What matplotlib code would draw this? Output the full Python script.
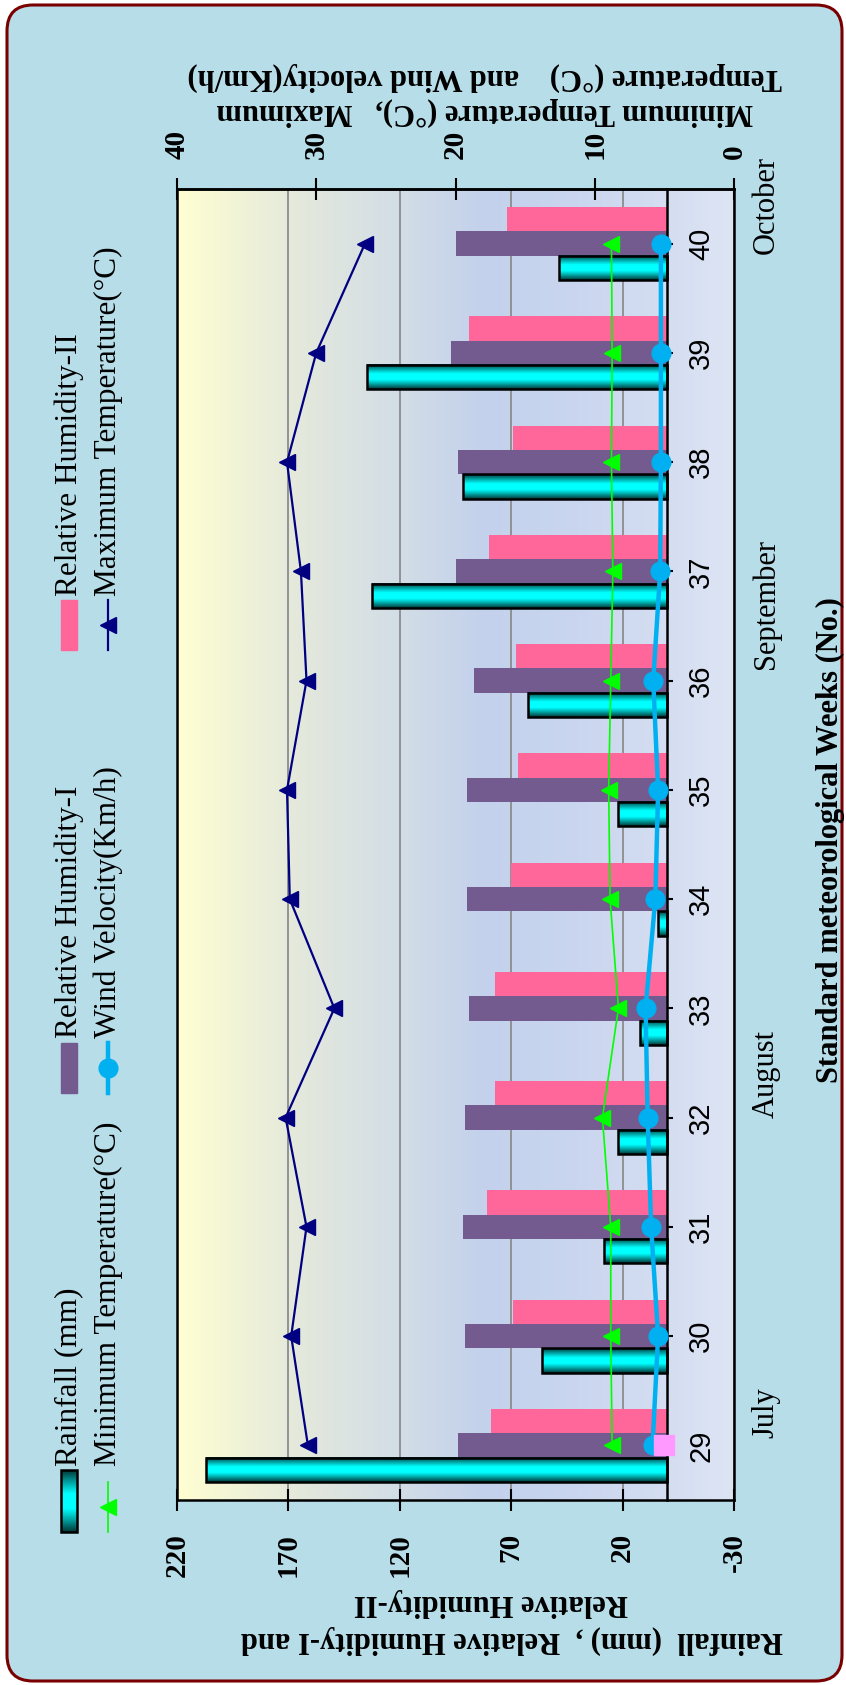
import numpy as np
import matplotlib
matplotlib.use("Agg")
import matplotlib.pyplot as plt
from matplotlib.colors import LinearSegmentedColormap
from matplotlib.patches import FancyBboxPatch, Rectangle
from matplotlib.transforms import blended_transform_factory

plt.rcParams["font.family"] = ["Liberation Serif", "DejaVu Serif"]

# ---------------- data ----------------
weeks = [29, 30, 31, 32, 33, 34, 35, 36, 37, 38, 39, 40]
week_labels = ["29", "30", "31", "32", "33", "34", "35", "36", "37", "38", "39", "40"]
rainfall = [206.8, 56.4, 28.2, 22.0, 12.0, 4.3, 22.0, 62.6, 132.7, 91.6, 134.7, 48.4]
rh_one = [93.7, 90.9, 91.8, 90.9, 88.9, 89.7, 89.7, 86.9, 94.8, 93.7, 96.8, 94.8]
rh_two = [78.9, 69.1, 80.9, 77.1, 77.1, 70.1, 66.9, 68.0, 80.0, 69.1, 89.1, 72.0]
temp_max = [30.6, 31.8, 30.7, 32.2, 28.7, 31.9, 32.1, 30.7, 31.1, 32.1, 30.0, 26.5]
temp_min = [8.75, 8.85, 8.85, 9.45, 8.3, 8.9, 9.0, 8.85, 8.7, 8.8, 8.75, 8.8]
wind_speed = [5.85, 5.45, 5.95, 6.2, 6.35, 5.65, 5.45, 5.8, 5.3, 5.25, 5.25, 5.25]
extra_week = [29]
extra_value = [1.3]

months = ["July", "August", "September", "October"]
month_pos = [29.3, 32.4, 36.7, 40.35]

left_ticks = [220, 170, 120, 70, 20, -30]
right_ticks = [40, 30, 20, 10, 0]

W, H = 846, 1685


def to_temp(v):
    # primary axis (-30..220) expressed on the temperature axis (0..40)
    return (np.asarray(v, float) + 30.0) / 6.25


fig = plt.figure(figsize=(W / 100, H / 100), dpi=100, facecolor="white")

# ---------------- page layer (pixel coordinates, origin top-left) ----------------
page = fig.add_axes([0, 0, 1, 1], zorder=-1)
page.axis("off")
page.add_patch(FancyBboxPatch((7, 5), 835, 1676,
                              boxstyle="round,pad=0,rounding_size=26",
                              facecolor="#b7dde8", edgecolor="#7a0000", lw=2.2))

cyl = LinearSegmentedColormap.from_list(
    "cyl", [(0.0, "#003838"), (0.18, "#009c9c"), (0.38, "#00ffff"),
            (0.62, "#00ffff"), (0.82, "#009c9c"), (1.0, "#003838")])
grad = np.linspace(0, 1, 64)[:, None]

# ---------------- plot area ----------------
ax = fig.add_axes([177 / W, 1 - 1500 / H, (734 - 177) / W, (1500 - 189) / H])

bg_cmap = LinearSegmentedColormap.from_list(
    "plotbg", [(0.0, "#ffffd2"), (0.2, "#e6eadb"), (0.4, "#d2dde6"),
               (0.55, "#c3d1ec"), (0.72, "#cad6ef"), (0.87, "#d4ddf1"),
               (1.0, "#dde5f4")])
ax.imshow(np.linspace(0, 1, 512)[None, :], cmap=bg_cmap, extent=[0, 1, 0, 1],
          transform=ax.transAxes, aspect="auto", zorder=0, interpolation="bilinear")

w = np.array(weeks, float)
bh = 0.222
ax.barh(w + bh, rh_two, height=bh, left=0, color="#ff6699", zorder=2)
ax.barh(w, rh_one, height=bh, left=0, color="#735a8f", zorder=2)
for wk, r in zip(w, rainfall):
    ax.imshow(grad, cmap=cyl, extent=[0, r, wk - 1.5 * bh, wk - 0.5 * bh],
              aspect="auto", zorder=2.5, interpolation="bilinear")
ax.barh(w - bh, rainfall, height=bh, left=0, facecolor="none",
        edgecolor="black", lw=1.8, zorder=3)

ax.set_xlim(220, -30)
ax.set_ylim(28.5, 40.5)
ax.set_xticks(left_ticks)
ax.set_xticklabels([str(t) for t in left_ticks])
ax.grid(axis="x", color="#8c8c8c", lw=1.3)
ax.set_axisbelow(True)

for s in ("left", "top", "bottom"):
    ax.spines[s].set_linewidth(1.8)
ax.spines["right"].set_position(("data", 0))
ax.spines["right"].set_linewidth(1.8)

ax.xaxis.set_ticks_position("bottom")
ax.tick_params(axis="x", direction="inout", length=16, width=1.5, pad=15.5,
               labelsize=21, labelrotation=90)
for lab in ax.get_xticklabels():
    lab.set_fontweight("bold")

ax.yaxis.set_ticks_position("right")
ax.set_yticks(weeks)
ax.set_yticklabels(week_labels)
ax.tick_params(axis="y", direction="out", length=4.5, width=1.5, pad=10,
               labelsize=21, labelrotation=90, labelfontfamily="Liberation Sans")
for t in ax.yaxis.get_major_ticks():
    t.label2.set_va("center")

# ---------------- temperature / wind axis ----------------
ax2 = ax.twiny()
ax2.set_xlim(40, 0)
ax2.set_xticks(right_ticks)
ax2.set_xticklabels([str(t) for t in right_ticks])
ax2.tick_params(axis="x", direction="inout", length=16, width=1.5, pad=13.5,
                labelsize=21, labelrotation=90)
for lab in ax2.get_xticklabels():
    lab.set_fontweight("bold")
for s in ax2.spines.values():
    s.set_linewidth(1.8)
ax2.spines["left"].set_visible(False)
ax2.spines["bottom"].set_visible(False)

ax2.plot(temp_max, w, color="#000080", lw=1.6, marker="<", ms=11, zorder=5)
ax2.plot(temp_min, w, color="#00ff00", lw=1.2, marker="<", ms=11, zorder=5)
ax2.plot(wind_speed, w, color="#00b0f0", lw=3.2, marker="o", ms=13.5, zorder=6)
ax2.plot(to_temp(extra_value), extra_week, ls="none", marker="s", ms=14,
         color="#ff99ff", zorder=7)

# ---------------- month labels and axis titles ----------------
trans = blended_transform_factory(fig.transFigure, ax.transData)
for m, p in zip(months, month_pos):
    ax.text(766 / W, p, m, transform=trans, rotation=90, ha="center",
            va="center", fontsize=22, clip_on=False)

page.text(830, 840, "Standard meteorological Weeks (No.)", rotation=90,
          ha="center", va="center", fontsize=22, fontweight="bold")
page.text(485, 112, "Minimum Temperature (°C),   Maximum", rotation=180,
          ha="center", va="center", fontsize=22, fontweight="bold")
page.text(485, 77, "Temperature (°C)    and Wind velocity(Km/h)", rotation=180,
          ha="center", va="center", fontsize=22, fontweight="bold")
page.text(512, 1640, "Rainfall  (mm) ,  Relative Humidity-I and", rotation=180,
          ha="center", va="center", fontsize=22, fontweight="bold")
page.text(491, 1602, "Relative Humidity-II", rotation=180,
          ha="center", va="center", fontsize=22, fontweight="bold")

# ---------------- legend ----------------
page.imshow(grad, cmap=cyl, extent=[61, 77, 1532, 1470], aspect="auto",
            zorder=3, interpolation="bilinear")
page.add_patch(Rectangle((61, 1470), 16, 62, fill=False, ec="black", lw=1.8, zorder=4))
page.add_patch(Rectangle((61, 1043), 16, 50, color="#735a8f", zorder=3))
page.add_patch(Rectangle((61, 600), 16, 50, color="#ff6699", zorder=3))

page.plot([108, 108], [1482, 1532], color="#00ff00", lw=1.2)
page.plot([108], [1507], marker="<", ms=11, color="#00ff00")
page.plot([108, 108], [1043, 1093], color="#00b0f0", lw=3.2)
page.plot([108], [1068], marker="o", ms=13.5, color="#00b0f0")
page.plot([108, 108], [600, 650], color="#000080", lw=1.6)
page.plot([108], [625], marker="<", ms=11, color="#000080")

legend_items = [
    (69, 1466, "Rainfall (mm)"),
    (69, 1038, "Relative Humidity-I"),
    (69, 596, "Relative Humidity-II"),
    (108, 1466, "Minimum Temperature(°C)"),
    (108, 1038, "Wind Velocity(Km/h)"),
    (108, 596, "Maximum Temperature(°C)"),
]
for x, y, label in legend_items:
    page.text(x, y, label, rotation=90, ha="center", va="bottom", fontsize=22.5)

page.set_xlim(0, W)
page.set_ylim(H, 0)

fig.savefig("out.png", dpi=100, facecolor="white")
